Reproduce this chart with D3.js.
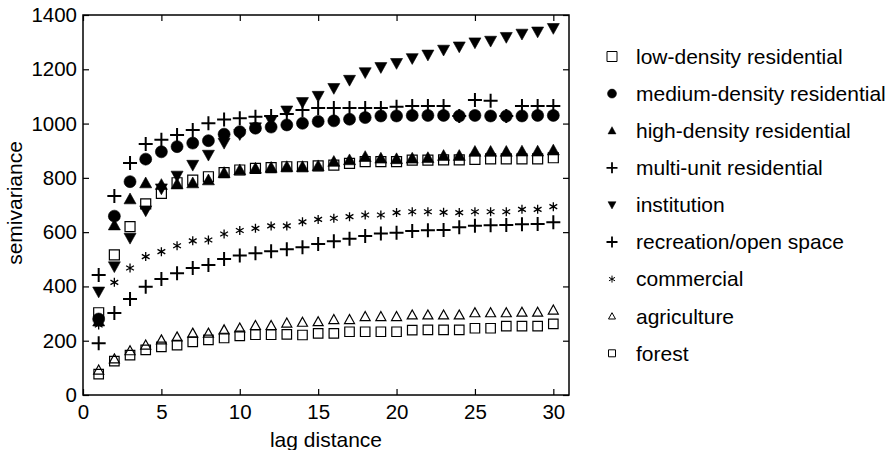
<!DOCTYPE html>
<html><head><meta charset="utf-8">
<script src="https://cdn.jsdelivr.net/npm/d3@7/dist/d3.min.js"></script>
<style>body{margin:0;background:#fff}svg{display:block}text{font-family:"Liberation Sans",Arial,sans-serif;fill:#000}</style>
</head><body><svg id="c" width="894" height="450"></svg>
<script>
const lags = [1,2,3,4,5,6,7,8,9,10,11,12,13,14,15,16,17,18,19,20,21,22,23,24,25,26,27,28,29,30];
const xTicks = [0,5,10,15,20,25,30];
const yTicks = [0,200,400,600,800,1000,1200,1400];
const seriesNames = ["low-density residential","medium-density residential","high-density residential","multi-unit residential","institution","recreation/open space","commercial","agriculture","forest"];
const lowDensity = [303,516,620,704,743,782,792,804,819,829,835,838,841,841,844,847,853,860,860,860,865,865,866,866,868,870,870,870,870,874];
const mediumDensity = [280,659,786,869,896,915,928,937,961,970,983,987,995,1001,1008,1010,1016,1022,1028,1028,1030,1030,1030,1028,1030,1028,1028,1028,1030,1030];
const highDensity = [272,626,722,781,775,777,781,792,819,829,835,838,841,841,844,860,866,878,872,870,872,874,882,882,897,897,897,898,898,902];
const multiUnit = [442,733,855,925,940,958,976,1001,1015,1020,1025,1028,1035,1050,1057,1057,1057,1057,1057,1062,1065,1065,1065,1028,1087,1084,1028,1065,1065,1065];
const institution = [380,473,578,679,760,807,847,884,928,960,985,1010,1047,1078,1101,1130,1160,1188,1207,1222,1240,1253,1271,1283,1298,1304,1318,1330,1338,1351];
const recreation = [191,302,354,399,427,449,468,479,501,514,522,530,537,544,556,566,576,586,595,598,604,607,608,618,624,625,626,629,630,636];
const commercial = [258,415,468,510,528,550,568,571,593,606,614,623,623,638,647,651,657,663,663,672,675,675,673,672,675,675,675,684,684,694];
const agriculture = [92,133,163,184,203,214,228,228,240,247,256,256,265,268,270,278,278,289,289,289,295,295,295,295,303,303,303,305,305,313];
const forest = [77,125,147,166,177,184,196,203,210,218,222,222,223,221,227,227,233,233,233,233,239,240,240,240,246,246,254,254,254,262];

const seriesValues = [lowDensity,mediumDensity,highDensity,multiUnit,institution,recreation,commercial,agriculture,forest];
const seriesMarkers = ["square","circle","triUp","plus","triDown","plus","star","triOpen","square"];
const plotSizes = [10,12,12,14,12,14,9,10,9.5];
const legendSizes = [10,9,8,11,8,11,7,7,7];

const svg = d3.select("#c");
const L=83,R=569,T=15,B=395;
const x = d3.scaleLinear().domain([0,31]).range([L,R]);
const y = d3.scaleLinear().domain([0,1400]).range([B,T]);

function markerPath(type,s){
  const h=s/2;
  switch(type){
    case "square": return `M${-h},${-h}H${h}V${h}H${-h}Z`;
    case "circle": return d3.symbol(d3.symbolCircle, Math.PI*h*h)();
    case "triUp": case "triOpen": return `M0,${-h}L${h},${h*0.8}L${-h},${h*0.8}Z`;
    case "triDown": return `M0,${h}L${h},${-h*0.8}L${-h},${-h*0.8}Z`;
    case "plus": return `M${-h},0H${h}M0,${-h}V${h}`;
    case "star": {
      const a=h*0.866, b=h*0.5;
      return `M0,${-h}V${h}M${-a},${-b}L${a},${b}M${-a},${b}L${a},${-b}`;
    }
  }
}
function styleMarker(sel,type){
  const filled = (type==="circle"||type==="triUp"||type==="triDown");
  sel.attr("fill", filled?"#000":"none")
     .attr("stroke","#000")
     .attr("stroke-width", type==="plus"?2:(type==="star"?1.3:1.2))
     .attr("stroke-linejoin","miter");
  if(filled) sel.attr("stroke-width",0.6);
}

// frame
svg.append("rect").attr("x",L).attr("y",T).attr("width",R-L).attr("height",B-T)
  .attr("fill","none").attr("stroke","#000").attr("stroke-width",1.5);

// axes (ticks inward)
const fsTick = 20.5, fsLeg = 21, fsTitle = 21;
const gx = svg.append("g").attr("transform",`translate(0,${B})`)
  .call(d3.axisBottom(x).tickValues(xTicks).tickSize(-6).tickPadding(9).tickFormat(d3.format("d")));
const gxt = svg.append("g").attr("transform",`translate(0,${T})`)
  .call(d3.axisTop(x).tickValues(xTicks).tickSize(-6).tickFormat(""));
const gy = svg.append("g").attr("transform",`translate(${L},0)`)
  .call(d3.axisLeft(y).tickValues(yTicks).tickSize(-6).tickPadding(6).tickFormat(d3.format("d")));
const gyr = svg.append("g").attr("transform",`translate(${R},0)`)
  .call(d3.axisRight(y).tickValues(yTicks).tickSize(-6).tickFormat(""));
[gx,gxt,gy,gyr].forEach(g=>{
  g.select(".domain").remove();
  g.selectAll("line").attr("stroke","#000").attr("stroke-width",1.2);
  g.selectAll("text").attr("font-size",fsTick).attr("font-family","Liberation Sans, Arial, sans-serif").attr("fill","#000");
});
gx.selectAll("text").attr("dy","0.71em");

// axis titles
svg.append("text").attr("x",(L+R)/2).attr("y",447).attr("text-anchor","middle")
  .attr("font-size",fsTitle).text("lag distance");
svg.append("text").attr("transform",`translate(22,${(T+B)/2-2}) rotate(-90)`)
  .attr("text-anchor","middle").attr("font-size",fsTitle).text("semivariance");

// markers
seriesValues.forEach((vals,i)=>{
  const type=seriesMarkers[i];
  const g=svg.append("g");
  g.selectAll("path").data(lags.map((l,j)=>({l,v:vals[j]})).filter(d=>d.v!=null))
    .join("path")
    .attr("transform",d=>`translate(${x(d.l)},${y(d.v)})`)
    .attr("d",markerPath(type,plotSizes[i]))
    .call(styleMarker,type);
});

// legend
const lx=612, ly0=56.5, ldy=37.1;
seriesNames.forEach((name,i)=>{
  const type=seriesMarkers[i];
  const cy=ly0+i*ldy;
  svg.append("path").attr("transform",`translate(${lx},${cy})`)
    .attr("d",markerPath(type,legendSizes[i])).call(styleMarker,type)
    .attr("stroke-width", type==="plus"?1.8:(type==="circle"||type==="triUp"||type==="triDown"?0.5:1));
  svg.append("text").attr("x",636).attr("y",cy).attr("dy","0.35em")
    .attr("font-size",fsLeg).text(name);
});
</script></body></html>
